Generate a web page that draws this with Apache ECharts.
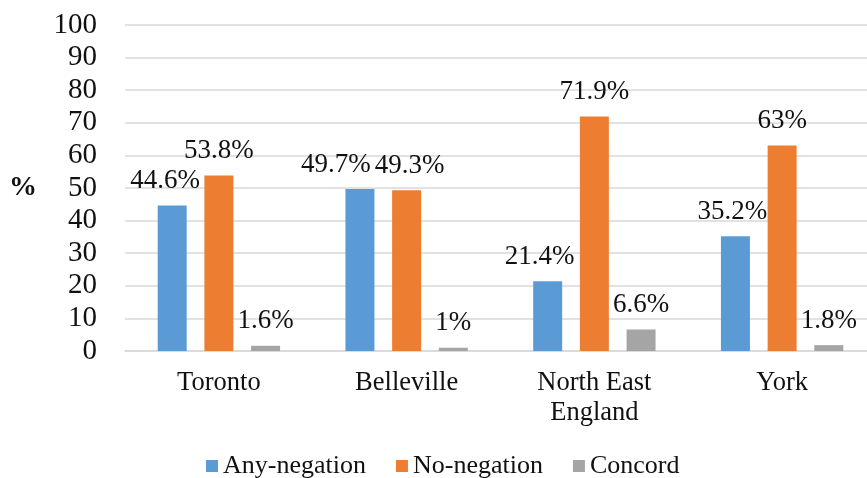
<!DOCTYPE html>
<html>
<head>
<meta charset="utf-8">
<script src="https://cdn.jsdelivr.net/npm/echarts@6/dist/echarts.min.js"></script>
<style>
html,body{margin:0;padding:0;background:#fff;}
#chart{width:867px;height:478px;}
</style>
</head>
<body>
<div id="chart"></div>
<script>
var categories = ['Toronto', 'Belleville', 'North East\nEngland', 'York'];
var seriesNames = ['Any-negation', 'No-negation', 'Concord'];
var anyNegation = [44.6, 49.7, 21.4, 35.2];
var noNegation = [53.8, 49.3, 71.9, 63];
var concord = [1.6, 1, 6.6, 1.8];
var yTicks = [0, 100, 10];

var FONT = "'Liberation Serif','Times New Roman',serif";
var colors = ['#5B9BD5', '#ED7D31', '#A5A5A5'];

function labelFmt(p) { return p.value + '%'; }

var chart = echarts.init(document.getElementById('chart'));
var baseLabel = {
  show: true, position: 'top', distance: 11,
  formatter: labelFmt, color: '#111', fontFamily: FONT, fontSize: 27
};
function makeSeries(name, vals, idx, offsets) {
  return {
    name: name, type: 'bar', barWidth: 29, barGap: '61%',
    itemStyle: { color: colors[idx] },
    label: baseLabel,
    data: vals.map(function (v, i) {
      var o = offsets && offsets[i];
      return o ? { value: v, label: { offset: o } } : v;
    })
  };
}
chart.setOption({
  animation: false,
  grid: { left: 125, right: -9, top: 25, bottom: 127, containLabel: false, outerBoundsMode: 'none' },
  legend: {
    bottom: -6, left: 201, itemWidth: 12, itemHeight: 12, itemGap: 30,
    icon: 'rect',
    textStyle: { fontFamily: FONT, fontSize: 26, color: '#111' },
    data: seriesNames
  },
  xAxis: {
    type: 'category', data: categories,
    axisLine: { lineStyle: { color: '#D9D9D9', width: 1.5 } },
    axisTick: { show: false },
    axisLabel: { fontFamily: FONT, fontSize: 26.5, color: '#111', margin: 17, lineHeight: 30, interval: 0 }
  },
  yAxis: {
    type: 'value', min: yTicks[0], max: yTicks[1], interval: yTicks[2],
    name: '%', nameLocation: 'middle', nameGap: 88, nameRotate: 0,
    nameTextStyle: { fontFamily: FONT, fontSize: 28, fontWeight: 'bold', color: '#111' },
    axisLine: { show: false }, axisTick: { show: false },
    splitLine: { lineStyle: { color: '#D9D9D9', width: 1.5 } },
    axisLabel: { fontFamily: FONT, fontSize: 29, color: '#111', margin: 28 }
  },
  series: [
    makeSeries(seriesNames[0], anyNegation, 0, [[-7, 0], [-24, 0], [-8, 0], [-3, 0]]),
    makeSeries(seriesNames[1], noNegation, 1, [[0, 0], [3, 0], [0, 0], [0, 0]]),
    makeSeries(seriesNames[2], concord, 2, [[0, 0], [0, 0], [0, 0], [0, 0]])
  ]
});
</script>
</body>
</html>
